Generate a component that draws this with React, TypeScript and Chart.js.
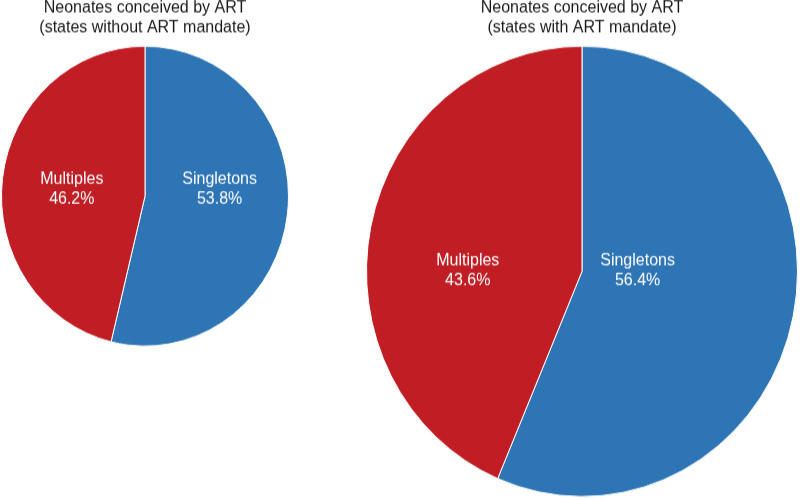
import React, { useEffect, useRef } from "react";
import { Chart, registerables } from "chart.js";

Chart.register(...registerables);

// ---- data ----
const categories = ["Singletons", "Multiples"];
const withoutMandateValues = [53.8, 46.2];
const withMandateValues = [56.4, 43.6];
const titleWithout = ["Neonates conceived by ART", "(states without ART mandate)"];
const titleWith = ["Neonates conceived by ART", "(states with ART mandate)"];

// ---- styles ----
const sliceColors = ["#2E75B6", "#C01E24"];
const FONT = "'Liberation Sans', Arial, Helvetica, sans-serif";

const labelPlugin = {
  id: "sliceLabels",
  afterDatasetsDraw(chart: any) {
    const opts = chart.options.plugins.sliceLabels || {};
    const offsets: number[][] = opts.offsets || [];
    const meta = chart.getDatasetMeta(0);
    const ds = chart.data.datasets[0];
    const ctx = chart.ctx;
    ctx.save();
    ctx.fillStyle = "#ffffff";
    ctx.font = `16px ${FONT}`;
    ctx.textAlign = "center";
    ctx.textBaseline = "middle";
    meta.data.forEach((arc: any, i: number) => {
      const r = arc.outerRadius;
      const off = offsets[i] || [0, 0];
      const x = arc.x + off[0] * r;
      const y = arc.y + off[1] * r;
      ctx.fillText(String(chart.data.labels[i]), x, y - 9.5);
      ctx.fillText(`${Number(ds.data[i]).toFixed(1)}%`, x, y + 9.5);
    });
    ctx.restore();
  },
};

function PieChart(props: {
  values: number[];
  title: string[];
  left: number;
  size: number;
  offsets: number[][];
}) {
  const ref = useRef<HTMLCanvasElement | null>(null);
  useEffect(() => {
    if (!ref.current) return;
    const chart = new Chart(ref.current, {
      type: "pie",
      data: {
        labels: categories,
        datasets: [
          {
            data: props.values,
            backgroundColor: sliceColors,
            borderColor: "#ffffff",
            borderWidth: 1,
            hoverOffset: 0,
          },
        ],
      },
      options: {
        responsive: false,
        animation: false,
        events: [],
        layout: { padding: 0 },
        plugins: {
          legend: { display: false },
          tooltip: { enabled: false },
          title: {
            display: true,
            text: props.title,
            color: "#1a1a1a",
            font: { family: FONT, size: 16, weight: "normal", lineHeight: 1.2 },
            padding: { top: 0, bottom: 7 },
          },
          sliceLabels: { offsets: props.offsets },
        } as any,
      },
      plugins: [labelPlugin],
    } as any);
    return () => chart.destroy();
  }, []);
  const h = Math.ceil(45.4 + props.size);
  return (
    <canvas
      ref={ref}
      width={props.size}
      height={h}
      style={{ position: "absolute", left: props.left, top: -2, width: props.size, height: h }}
    />
  );
}

export default function App() {
  return (
    <div
      style={{
        position: "absolute",
        left: 0,
        top: 0,
        width: 800,
        height: 478.5,
        transform: `scaleY(${500 / 478.5})`,
        transformOrigin: "0 0",
        background: "#fff",
      }}
    >
      <PieChart
        values={withoutMandateValues}
        title={titleWithout}
        left={1}
        size={288}
        offsets={[
          [0.52, -0.043],
          [-0.51, -0.043],
        ]}
      />
      <PieChart
        values={withMandateValues}
        title={titleWith}
        left={366}
        size={432}
        offsets={[
          [0.258, -0.002],
          [-0.53, -0.002],
        ]}
      />
    </div>
  );
}
